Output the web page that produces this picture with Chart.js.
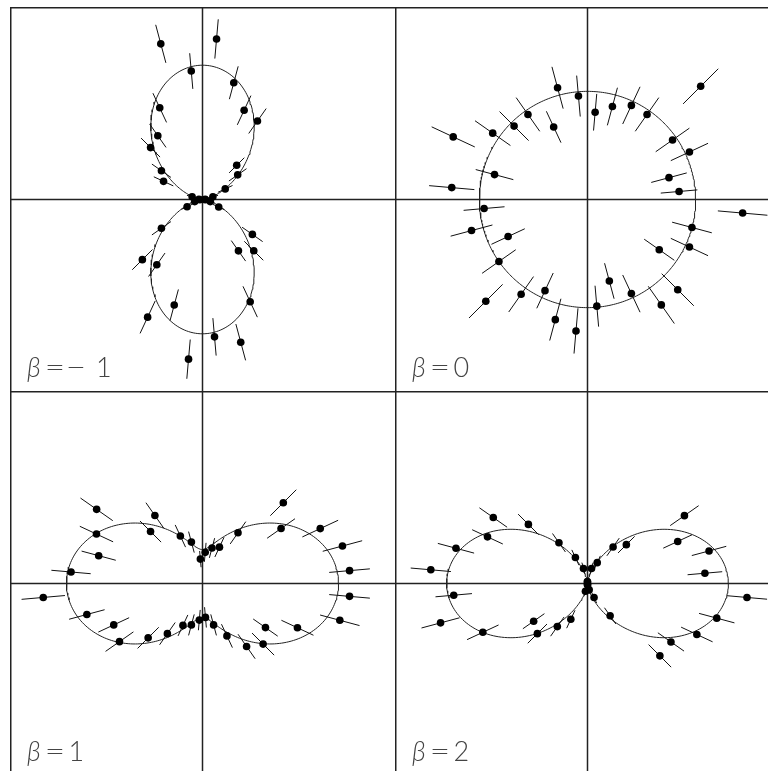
<!DOCTYPE html>
<html>
<head>
<meta charset="utf-8">
<title>Angular distributions</title>
<script src="https://cdn.jsdelivr.net/npm/chart.js@4.4.1/dist/chart.umd.min.js"></script>
<style>
    html, body { margin: 0; padding: 0; background: #fff; overflow: hidden; }
    .panel { position: absolute; width: 385px; height: 385px; }
    .panel canvas { display: block; }
    .beta-label {
        position: absolute;
        left: 17px;
        top: 346px;
        font-family: 'Lato', 'DejaVu Sans', sans-serif;
        font-weight: 300;
        font-size: 27px;
        line-height: 27px;
        color: #444;
        white-space: nowrap;
    }
    .beta-label i { margin-right: 3px; }
    .beta-label .op { display: inline-block; transform: scaleX(1.3); margin: 0 3px; }
    .beta-label .num { margin-left: 3px; }
    .beta-label .neg { margin-left: 9px; }
</style>
</head>
<body>
<div id="plots"></div>
<script>
// emission angles of the measured points (degrees, from the x axis)
const angles = [5, 15, 25, 35, 45, 55, 65, 75, 85, 95, 105, 115, 125, 135, 145, 155, 165, 175,
    185, 195, 205, 215, 225, 235, 245, 255, 265, 275, 285, 295, 305, 315, 325, 335, 345, 355];

const betaValues = [-1, 0, 1, 2];

// measured intensities and their errors, one list per beta
const intensityBetaMinus1 = [0.03, 0.12, 0.28, 0.48, 0.54, 1.07, 1.10, 1.35, 1.80, 1.44, 1.80, 1.13, 0.87, 0.82, 0.56, 0.48, 0.12, 0.04,
    0.03, 0.09, 0.19, 0.56, 0.95, 0.89, 1.45, 1.22, 1.79, 1.54, 1.65, 1.26, 0.70, 0.81, 0.68, 0.20, 0.09, 0.03];
const errorBetaMinus1 = [0.03, 0.06, 0.09, 0.12, 0.12, 0.17, 0.18, 0.19, 0.22, 0.20, 0.22, 0.18, 0.16, 0.15, 0.13, 0.12, 0.06, 0.03,
    0.03, 0.05, 0.07, 0.13, 0.16, 0.16, 0.20, 0.18, 0.22, 0.21, 0.21, 0.19, 0.14, 0.15, 0.14, 0.07, 0.05, 0.03];

const intensityBeta0 = [0.85, 0.78, 1.04, 0.96, 1.48, 0.96, 0.96, 0.89, 0.81, 0.96, 1.07, 0.74, 0.96, 0.96, 1.07, 1.37, 0.89, 1.26,
    0.96, 1.11, 0.81, 1.00, 1.33, 1.07, 0.93, 1.15, 1.22, 0.99, 0.78, 0.96, 1.19, 1.18, 0.81, 1.04, 1.00, 1.44];
const errorBeta0 = [0.17, 0.17, 0.19, 0.19, 0.23, 0.19, 0.19, 0.18, 0.17, 0.19, 0.20, 0.16, 0.19, 0.19, 0.20, 0.22, 0.18, 0.21,
    0.19, 0.20, 0.17, 0.19, 0.22, 0.20, 0.18, 0.20, 0.21, 0.19, 0.17, 0.19, 0.21, 0.21, 0.17, 0.19, 0.19, 0.23];

const intensityBeta1 = [2.17, 2.13, 1.91, 1.41, 1.68, 0.91, 0.59, 0.54, 0.46, 0.36, 0.63, 0.77, 1.22, 1.08, 1.90, 1.72, 1.58, 1.94,
    2.35, 1.76, 1.44, 1.49, 1.13, 0.90, 0.68, 0.63, 0.54, 0.50, 0.63, 0.85, 1.13, 1.26, 1.13, 1.54, 2.09, 2.17];
const errorBeta1 = [0.30, 0.30, 0.29, 0.25, 0.27, 0.20, 0.16, 0.15, 0.14, 0.12, 0.16, 0.18, 0.23, 0.22, 0.29, 0.27, 0.26, 0.29,
    0.32, 0.27, 0.25, 0.25, 0.22, 0.20, 0.17, 0.16, 0.15, 0.15, 0.16, 0.19, 0.22, 0.23, 0.22, 0.26, 0.30, 0.30];

const intensityBeta2 = [2.51, 2.68, 2.12, 2.52, 1.17, 0.95, 0.49, 0.33, 0.03, 0.04, 0.33, 0.61, 1.06, 1.78, 2.45, 2.35, 2.90, 3.35,
    2.86, 3.24, 2.46, 1.40, 1.51, 1.12, 0.84, 0.17, 0.02, 0.03, 0.14, 0.33, 0.84, 2.18, 2.17, 2.57, 2.85, 3.41];
const errorBeta2 = [0.37, 0.38, 0.34, 0.37, 0.25, 0.23, 0.16, 0.13, 0.04, 0.05, 0.13, 0.18, 0.24, 0.31, 0.36, 0.36, 0.40, 0.43,
    0.39, 0.42, 0.37, 0.28, 0.29, 0.25, 0.21, 0.10, 0.03, 0.04, 0.09, 0.13, 0.21, 0.34, 0.34, 0.37, 0.39, 0.43];

// where each panel sits and how far its axes reach
const panels = [
    { beta: betaValues[0], r: intensityBetaMinus1, err: errorBetaMinus1, range: 2.15, left: 10, top: 7 },
    { beta: betaValues[1], r: intensityBeta0, err: errorBeta0, range: 1.78, left: 395, top: 7 },
    { beta: betaValues[2], r: intensityBeta1, err: errorBeta1, range: 2.83, left: 10, top: 391 },
    { beta: betaValues[3], r: intensityBeta2, err: errorBeta2, range: 4.10, left: 395, top: 391 }
];

function toXY(angleDeg, r) {
    const a = angleDeg * Math.PI / 180;
    return { x: r * Math.cos(a), y: r * Math.sin(a) };
}

// I(theta) = 1 + beta * P2(cos theta)
function buildCurve(beta) {
    const pts = [];
    for (let deg = 0; deg <= 360; deg++) {
        const c = Math.cos(deg * Math.PI / 180);
        pts.push(toXY(deg, 1 + beta * (3 * c * c - 1) / 2));
    }
    return pts;
}

// radial error bars, separated by gaps
function buildErrorBars(r, err) {
    const segs = [];
    angles.forEach((ang, i) => {
        segs.push(toXY(ang, r[i] - err[i]));
        segs.push(toXY(ang, r[i] + err[i]));
        segs.push({ x: null, y: null });
    });
    return segs;
}

// left and top edges of the panel frame plus the two zero axes;
// neighbouring panels supply the other edges
const framePlugin = {
    id: 'frame',
    beforeDatasetsDraw(chart) {
        const { ctx, chartArea: a, scales: { x, y } } = chart;
        const x0 = x.getPixelForValue(0);
        const y0 = y.getPixelForValue(0);
        ctx.save();
        ctx.strokeStyle = '#222';
        ctx.lineWidth = 1.5;
        ctx.beginPath();
        ctx.moveTo(a.left + 0.75, a.bottom);
        ctx.lineTo(a.left + 0.75, a.top + 0.75);
        ctx.lineTo(a.right, a.top + 0.75);
        ctx.moveTo(x0, a.top);
        ctx.lineTo(x0, a.bottom);
        ctx.moveTo(a.left, y0);
        ctx.lineTo(a.right, y0);
        ctx.stroke();
        ctx.restore();
    }
};

function labelHtml(beta) {
    const num = beta < 0
        ? `<span class="op">\u2212</span><span class="neg">${Math.abs(beta)}</span>`
        : `<span class="num">${beta}</span>`;
    return `<i>β</i><span class="op">=</span>${num}`;
}

const plots = document.getElementById('plots');

panels.forEach(panel => {
    const box = document.createElement('div');
    box.className = 'panel';
    box.style.left = panel.left + 'px';
    box.style.top = panel.top + 'px';
    box.innerHTML = `<canvas width="385" height="385"></canvas><div class="beta-label">${labelHtml(panel.beta)}</div>`;
    plots.appendChild(box);

    const points = angles.map((ang, i) => toXY(ang, panel.r[i]));

    new Chart(box.querySelector('canvas'), {
        type: 'scatter',
        data: {
            datasets: [
                {
                    data: points,
                    backgroundColor: '#000',
                    borderColor: '#000',
                    pointRadius: 3.8,
                    pointBorderWidth: 0
                },
                {
                    type: 'line',
                    data: buildErrorBars(panel.r, panel.err),
                    borderColor: '#111',
                    borderWidth: 1,
                    pointRadius: 0,
                    spanGaps: false
                },
                {
                    type: 'line',
                    data: buildCurve(panel.beta),
                    borderColor: '#222',
                    borderWidth: 1,
                    pointRadius: 0,
                    tension: 0,
                    fill: false
                }
            ]
        },
        options: {
            responsive: false,
            animation: false,
            events: [],
            layout: { padding: 0, autoPadding: false },
            plugins: { legend: { display: false }, tooltip: { enabled: false } },
            scales: {
                x: { type: 'linear', min: -panel.range, max: panel.range, display: false },
                y: { type: 'linear', min: -panel.range, max: panel.range, display: false }
            }
        },
        plugins: [framePlugin]
    });
});
</script>
</body>
</html>
